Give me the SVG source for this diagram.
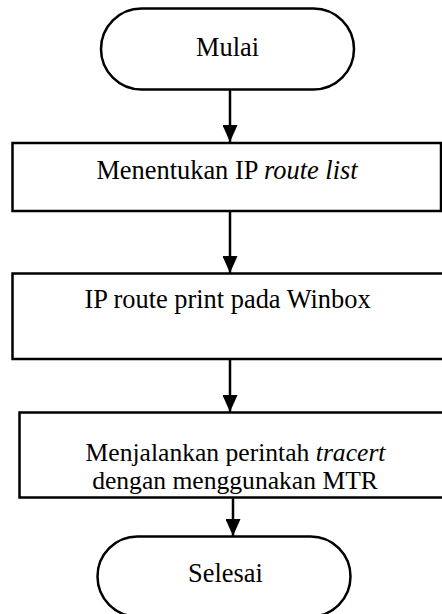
<svg xmlns="http://www.w3.org/2000/svg" width="442" height="614" viewBox="0 0 442 614">
  <style>
    .shape { fill: #ffffff; stroke: #000000; stroke-width: 2.5; }
    .label { font-family: "Liberation Serif", "Times New Roman", serif; font-size: 26.4px; fill: #000000; text-anchor: middle; }
    .tight { font-size: 25.6px; }
    .conn { stroke: #000000; stroke-width: 2.5; fill: none; marker-end: url(#arrow); }
  </style>
  <defs>
    <marker id="arrow" viewBox="0 0 17 15" refX="17" refY="7.5" markerWidth="17" markerHeight="15" markerUnits="userSpaceOnUse" orient="auto">
      <path d="M0,0 L17,7.5 L0,15 z" fill="#000000"/>
    </marker>
  </defs>
  <rect width="442" height="614" fill="#ffffff"/>
  <g id="connectors">
    <line class="conn" x1="230" y1="89" x2="230" y2="142"/>
    <line class="conn" x1="230" y1="211" x2="230" y2="273"/>
    <line class="conn" x1="230" y1="359" x2="230" y2="412"/>
    <line class="conn" x1="233" y1="497" x2="233" y2="536"/>
  </g>
  <g id="mulai">
    <rect class="shape" x="101" y="8.5" width="253" height="81" rx="40.5" ry="40.5"/>
    <text class="label" x="227.5" y="56">Mulai</text>
  </g>
  <g id="menentukan">
    <rect class="shape" x="12.5" y="143" width="428.5" height="68"/>
    <text class="label" x="227" y="179">Menentukan IP <tspan font-style="italic">route list</tspan></text>
  </g>
  <g id="iproute">
    <rect class="shape" x="12.5" y="273.5" width="440" height="85.5"/>
    <text class="label" x="227.5" y="308">IP route print pada Winbox</text>
  </g>
  <g id="tracert">
    <rect class="shape" x="19.5" y="412.5" width="440" height="85"/>
    <text class="label tight" x="235.5" y="460.5">Menjalankan perintah <tspan font-style="italic">tracert</tspan></text>
    <text class="label tight" x="235" y="488.5">dengan menggunakan MTR</text>
  </g>
  <g id="selesai">
    <rect class="shape" x="97.5" y="536.5" width="253" height="80" rx="40" ry="40"/>
    <text class="label" x="225.5" y="582">Selesai</text>
  </g>
</svg>
